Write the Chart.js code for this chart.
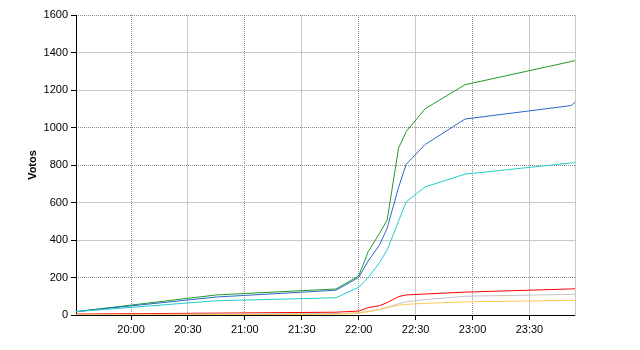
<!DOCTYPE html>
<html lang="es">
<head>
<meta charset="UTF-8">
<title>Votos</title>
<style>
    html, body { margin: 0; padding: 0; background: #fff; }
    #wrap { width: 640px; height: 350px; }
</style>
</head>
<body>
<div id="wrap"><canvas id="votos"></canvas></div>
<script src="https://cdn.jsdelivr.net/npm/chart.js"></script>
<script>
    // horas en minutos desde medianoche
    const tiempos = [1171, 1245, 1308, 1320, 1325, 1331, 1335, 1341, 1345, 1355, 1376, 1432, 1434];
    const verde   = [18, 107, 139, 208, 338, 436, 507, 890, 978, 1100, 1228, 1352, 1357];
    const azul    = [18, 96, 132, 200, 288, 374, 463, 680, 804, 909, 1045, 1117, 1135];
    const celeste = [18, 76, 92, 148, 200, 280, 347, 500, 603, 683, 751, 811, 813];
    const rojo    = [5, 10, 15, 21, 39, 50, 66, 98, 107, 112, 122, 139, 140];
    const gris    = [2, 5, 8, 12, 20, 30, 42, 60, 71, 82, 100, 110, 110];
    const naranja = [0, 2, 4, 10, 18, 28, 40, 52, 57, 62, 70, 78, 78];

    const marcasX = [1200, 1230, 1260, 1290, 1320, 1350, 1380, 1410];
    const marcasHoraX = [1200, 1260, 1320, 1380];
    const marcasPunteadasY = [200, 800, 1000, 1600];

    const fuente = { family: '"Liberation Sans", Arial, sans-serif', size: 11 };

    function serie(valores, color) {
        return {
            data: valores.map((v, i) => ({ x: tiempos[i], y: v })),
            borderColor: color,
            borderWidth: 1,
            pointRadius: 0,
            tension: 0,
            fill: false
        };
    }

    function hhmm(m) {
        const h = Math.floor(m / 60);
        const mm = m % 60;
        return h + ':' + (mm < 10 ? '0' : '') + mm;
    }

    new Chart(document.getElementById('votos'), {
        type: 'line',
        data: {
            datasets: [
                serie(naranja, '#ffc850'),
                serie(gris, '#c4c4c4'),
                serie(rojo, '#ff0000'),
                serie(celeste, '#22cccc'),
                serie(azul, '#2a68c8'),
                serie(verde, '#22992a')
            ]
        },
        options: {
            responsive: true,
            maintainAspectRatio: false,
            animation: false,
            layout: { padding: { top: 15, right: 65, bottom: 0, left: 0 } },
            plugins: {
                legend: { display: false },
                tooltip: { enabled: false }
            },
            scales: {
                x: {
                    type: 'linear',
                    position: 'bottom',
                    min: tiempos[0],
                    max: tiempos[tiempos.length - 1],
                    afterBuildTicks: s => { s.ticks = marcasX.map(v => ({ value: v })); },
                    afterFit: s => { s.height = 35; },
                    ticks: {
                        autoSkip: false,
                        maxRotation: 0,
                        padding: 3,
                        color: '#000',
                        font: fuente,
                        callback: v => hhmm(v)
                    },
                    grid: {
                        color: c => marcasHoraX.includes(c.tick && c.tick.value) ? 'transparent' : '#c8c8c8',
                        tickColor: '#000',
                        tickLength: 5
                    },
                    border: { display: true, color: '#000', width: 1 }
                },
                x2: {
                    type: 'linear',
                    position: 'top',
                    min: tiempos[0],
                    max: tiempos[tiempos.length - 1],
                    afterBuildTicks: s => { s.ticks = marcasHoraX.map(v => ({ value: v })); },
                    afterFit: s => { s.height = 0; },
                    ticks: { display: false },
                    grid: { color: '#8c8c8c', drawTicks: false },
                    border: { display: false, dash: [1, 1] }
                },
                y: {
                    position: 'left',
                    min: 0,
                    max: 1600,
                    afterFit: s => { s.width = 76; },
                    ticks: {
                        stepSize: 200,
                        padding: 3,
                        color: '#000',
                        font: fuente,
                        callback: v => String(v)
                    },
                    grid: {
                        color: c => {
                            const v = c.tick && c.tick.value;
                            return (v === 0 || marcasPunteadasY.includes(v)) ? 'transparent' : '#c8c8c8';
                        },
                        tickColor: '#000',
                        tickLength: 5
                    },
                    border: { display: true, color: '#000', width: 1 },
                    title: {
                        display: true,
                        text: 'Votos',
                        color: '#000',
                        font: { family: fuente.family, size: 11, weight: 'bold' },
                        padding: { top: 26, bottom: 0 }
                    }
                },
                y2: {
                    position: 'right',
                    min: 0,
                    max: 1600,
                    afterBuildTicks: s => { s.ticks = marcasPunteadasY.map(v => ({ value: v })); },
                    afterFit: s => { s.width = 0; },
                    ticks: { display: false },
                    grid: { color: '#8c8c8c', drawTicks: false },
                    border: { display: true, color: '#c8c8c8', width: 1, dash: [1, 1] }
                }
            }
        }
    });
</script>
</body>
</html>
